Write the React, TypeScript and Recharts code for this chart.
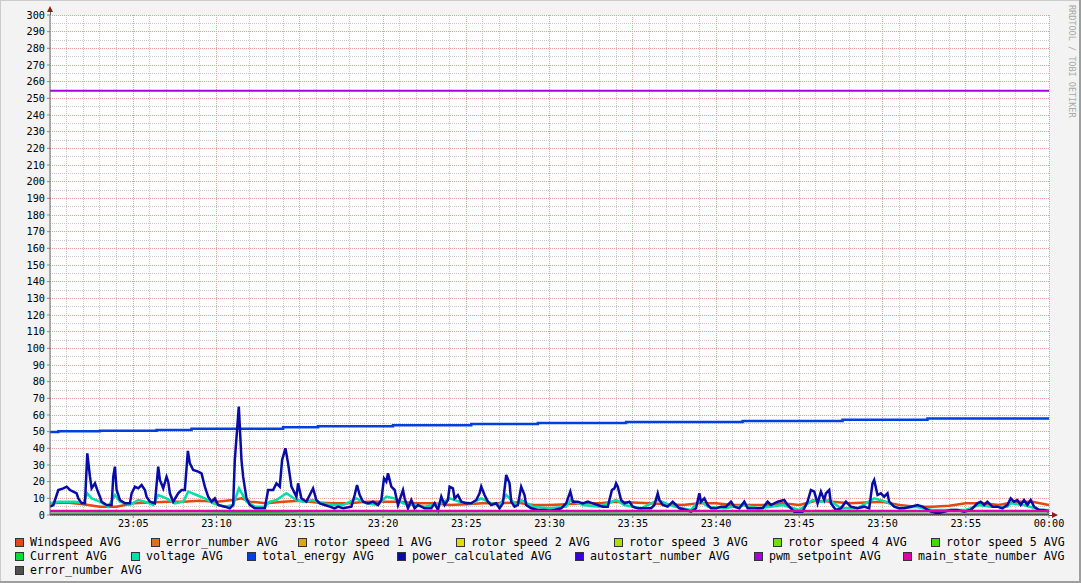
import React from 'react';
import { LineChart, Line, XAxis, YAxis, CartesianGrid } from 'recharts';

// minutes after 23:00
const minorX = Array.from({ length: 61 }, (_, i) => i);
const majorX = [5, 10, 15, 20, 25, 30, 35, 40, 45, 50, 55, 60];
const minorY = Array.from({ length: 61 }, (_, i) => i * 5);
const majorY = Array.from({ length: 31 }, (_, i) => i * 10);

const seriesNames = [
  'Windspeed AVG', 'error_number AVG', 'rotor speed 1 AVG', 'rotor speed 2 AVG',
  'rotor speed 3 AVG', 'rotor speed 4 AVG', 'rotor speed 5 AVG',
  'Current AVG', 'voltage AVG', 'total_energy AVG', 'power_calculated AVG',
  'autostart_number AVG', 'pwm_setpoint AVG', 'main_state_number AVG',
  'error_number AVG',
];
const seriesColors = [
  '#E8460F', '#E07010', '#E0A800', '#E0E000', '#A8E000', '#70E000', '#38E000',
  '#00E038', '#00E0A8', '#0040E0', '#0A0AA8', '#3800E0', '#A800E0', '#E000A8',
  '#505050',
];

const windT = [0, 1, 2, 3, 4, 5, 6, 7, 8, 9, 10, 11, 11.5, 12, 13, 14, 15, 16, 17, 18, 19, 20,
  21, 22, 23, 24, 25, 26, 27, 28, 29, 30, 31, 32, 33, 34, 35, 36, 37, 38, 39, 40,
  41, 42, 43, 44, 45, 46, 47, 48, 49, 50, 51, 52, 53, 54, 55, 56, 57, 58, 59, 60];
const windV = [7, 7.5, 6.5, 5, 5, 7, 7.5, 8, 8, 8.5, 8, 9, 10, 8, 7, 8, 8.5, 7.5, 7, 7, 8, 8,
  8, 7, 7, 6, 6.5, 7, 7, 7.5, 6, 6, 6.5, 7, 7, 8, 7.5, 7, 6.5, 6, 7, 7,
  6, 6, 6, 7, 6, 8.5, 8, 7, 7.5, 8, 6, 5, 5, 5.5, 7, 7, 6, 8, 8, 6];

const currentT = [0, 3, 6, 9, 12, 15, 18, 21, 24, 27, 30, 33, 36, 39, 42, 45, 48, 51, 54, 57, 60];
const currentV = [0.8, 0.9, 0.7, 0.8, 1.2, 0.9, 0.8, 0.9, 0.8, 0.7, 0.8, 0.9, 0.7, 0.6, 0.8, 0.8, 0.9, 0.7, 0.6, 0.8, 0.7];

const voltT = [0, 0.5, 1, 1.5, 2, 2.24, 2.5, 3, 3.5, 3.9, 4.2, 4.8, 5.3, 5.7, 6.2, 6.5, 7, 7.5, 8, 8.3,
  8.8, 9.3, 9.8, 10.5, 11, 11.35, 11.8, 12.3, 12.9, 13.2, 13.6, 14.2, 14.8, 15.2, 15.8, 16.3, 17, 17.6,
  18.4, 19, 19.7, 20.2, 20.7, 21.2, 21.8, 22.5, 23.5, 24, 24.6, 25.3, 25.9, 26.5, 27, 27.4, 28, 28.3,
  29, 30, 31, 31.25, 32, 33, 34, 34.5, 35.5, 36.5, 37.5, 38.5, 39, 39.5, 40.5, 41.7, 42.5, 43.3, 44,
  45, 45.8, 46.3, 46.8, 47.5, 48.5, 49.5, 50.2, 51, 52, 53, 54, 55, 55.8, 56.5, 57.5, 57.7, 58.5, 59.5, 60];
const voltV = [7, 8, 8, 8, 7, 13, 10, 8, 5, 12, 8, 6, 9, 8, 6, 12, 10, 7, 8, 14,
  12, 10, 7, 5, 6, 16, 8, 5, 5, 8, 9, 13, 9, 8, 9, 7, 6, 6,
  10, 7, 6, 11, 10, 7, 6, 5, 7, 10, 8, 7, 10, 7, 6, 12, 6, 9,
  5, 4, 5, 9, 6, 5, 9, 6, 4, 9, 5, 3, 9, 5, 4, 6, 4, 5, 6,
  3, 9, 8, 9, 4, 4, 10, 8, 4, 5, 3, 3, 3, 6, 5, 5, 7, 6, 3, 3];

const energyT = [0, 0.5, 3.0, 6.4, 8.5, 14.0, 16.1, 20.6, 25.3, 29.3, 34.6, 41.6, 47.6, 52.7, 60];
const energyV = [49.8, 50.2, 50.5, 51.0, 51.8, 52.6, 53.2, 53.9, 54.6, 55.2, 55.8, 56.4, 57.2, 57.9, 57.9];

const powerT = [0, 0.2, 0.5, 0.8, 1.0, 1.2, 1.4, 1.6, 1.7, 1.9, 2.1, 2.24, 2.4, 2.5, 2.7, 2.84, 3.0, 3.1,
  3.4, 3.7, 3.8, 3.9, 4.0, 4.2, 4.5, 4.8, 4.9, 5.1, 5.3, 5.5, 5.7, 5.8, 6.0, 6.3, 6.5, 6.6, 6.8, 7.0,
  7.1, 7.2, 7.4, 7.7, 7.9, 8.1, 8.28, 8.4, 8.6, 8.9, 9.1, 9.3, 9.5, 9.7, 9.9, 10.1, 10.5, 10.8, 11.0,
  11.1, 11.34, 11.5, 11.6, 11.8, 12.0, 12.3, 12.9, 13.1, 13.4, 13.6, 13.8, 13.94, 14.14, 14.3, 14.5,
  14.8, 14.9, 15.1, 15.4, 15.6, 15.8, 16.0, 16.2, 16.5, 16.8, 17.1, 17.3, 17.6, 18.1, 18.3, 18.44,
  18.6, 18.8, 19.1, 19.4, 19.7, 19.9, 20.06, 20.2, 20.3, 20.5, 20.7, 20.9, 21.2, 21.3, 21.5, 21.7,
  21.9, 22.1, 22.5, 22.9, 23.1, 23.3, 23.5, 23.7, 23.9, 24.0, 24.2, 24.3, 24.5, 24.7, 25.0, 25.3,
  25.6, 25.8, 25.9, 26.1, 26.3, 26.5, 26.8, 27.0, 27.2, 27.4, 27.6, 27.7, 27.9, 28.1, 28.3, 28.5,
  28.6, 28.9, 29.3, 29.7, 30.0, 30.3, 30.7, 31.0, 31.25, 31.4, 31.7, 32.0, 32.3, 32.6, 32.9, 33.2,
  33.5, 33.75, 33.9, 34.0, 34.1, 34.3, 34.5, 34.8, 35.0, 35.3, 35.7, 36.1, 36.3, 36.5, 36.6, 36.8,
  37.1, 37.4, 37.6, 37.8, 38.2, 38.5, 38.8, 39.0, 39.1, 39.3, 39.5, 39.7, 40.0, 40.3, 40.6, 40.9,
  41.1, 41.4, 41.7, 41.9, 42.3, 42.8, 43.1, 43.3, 43.7, 44.1, 44.3, 44.7, 45.0, 45.2, 45.5, 45.7,
  45.9, 46.1, 46.3, 46.5, 46.6, 46.8, 46.9, 47.2, 47.5, 47.8, 48.1, 48.5, 48.9, 49.2, 49.4, 49.5,
  49.7, 49.9, 50.1, 50.3, 50.4, 50.7, 51.0, 51.3, 51.7, 52.1, 52.4, 52.9, 53.3, 53.7, 54.1, 54.5,
  54.9, 55.3, 55.7, 55.9, 56.1, 56.3, 56.6, 56.9, 57.2, 57.5, 57.7, 57.9, 58.1, 58.3, 58.5, 58.7,
  58.9, 59.1, 59.4, 59.7, 60.0];
const powerV = [5, 6, 15, 16, 17, 15, 14, 13, 10, 7, 7, 37, 23, 16, 19, 15, 11, 8,
  6, 6, 23, 29, 15, 9, 7, 7, 13, 17, 16, 18, 15, 11, 8, 7, 29, 21, 16, 23,
  20, 13, 8, 13, 15, 15, 38.5, 31, 27, 26, 25, 17, 11, 8, 10, 6, 5, 4, 6,
  33, 65, 33, 23, 10, 6, 4, 4, 15, 15, 19, 17, 33, 40, 31, 17,
  11, 19, 10, 8, 12, 16, 9, 7, 6, 5, 4, 5, 4, 5, 12, 18,
  12, 8, 7, 8, 6, 9, 22, 20, 25, 17, 15, 6, 15, 10, 4, 9,
  4, 6, 4, 4, 7, 3, 11, 6, 9, 17, 16, 10, 12, 8, 7, 7,
  9, 13, 17, 12, 8, 6, 7, 4, 7, 24, 19, 8, 5, 6, 17, 12,
  6, 4, 3, 3, 2.5, 3, 4, 7, 14, 8, 8, 7, 8, 7, 6, 5,
  5, 15, 16, 19, 17, 9, 7, 8, 5, 4, 4, 4, 6, 13, 9, 6,
  5, 8, 6, 4, 3, 2, 4, 13, 8, 10, 6, 4, 4, 5, 5, 8,
  5, 4, 8, 4, 4, 4, 8, 6, 8, 9, 6, 2, 2, 2, 8, 15,
  14, 7, 14, 9, 13, 15, 7, 3, 4, 8, 5, 4, 5, 4, 19, 21,
  12, 13, 11, 13, 8, 5, 4, 4, 5, 6, 5, 2, 1, 2, 3, 3,
  2, 3, 7, 8, 6, 8, 5, 5, 4, 6, 10, 8, 9, 6, 9, 6,
  9, 5, 3, 3, 2];

const pwmT = [0, 60];
const pwmV = [254.5, 254.5];
const stateT = [0, 60];
const stateV = [2.4, 2.4];
const zeroT = [0, 60];
const zeroV = [0, 0];

const pairs = (ts: number[], vs: number[]) => ts.map((t, i) => ({ t, v: vs[i] }));

// drawing order follows the legend order
const seriesData = [
  pairs(windT, windV),
  pairs(zeroT, zeroV),
  pairs(zeroT, zeroV),
  pairs(zeroT, zeroV),
  pairs(zeroT, zeroV),
  pairs(zeroT, zeroV),
  pairs(zeroT, zeroV),
  pairs(currentT, currentV),
  pairs(voltT, voltV),
  pairs(energyT, energyV),
  pairs(powerT, powerV),
  pairs(zeroT, zeroV),
  pairs(pwmT, pwmV),
  pairs(stateT, stateV),
  pairs(zeroT, zeroV),
];
const seriesWidth = [2.5, 2, 2, 2, 2, 2, 2, 2.5, 2.5, 2.5, 2.5, 2, 2, 2.5, 2];

const legendRows = [
  { top: 537, items: [0, 1, 2, 3, 4, 5, 6], lefts: [15, 151, 298, 456, 614, 773, 931] },
  { top: 551, items: [7, 8, 9, 10, 11, 12, 13], lefts: [15, 131, 247, 397, 575, 754, 903] },
  { top: 565, items: [14], lefts: [15] },
];

const mono = '"DejaVu Sans Mono", monospace';

const fmtTime = (m: number) => (m >= 60 ? '00:00' : `23:${String(m).padStart(2, '0')}`);

export default function App() {
  return (
    <div style={{ position: 'fixed', left: 0, top: 0, width: 1081, height: 583, background: '#F3F3F3', overflow: 'hidden' }}>
      <LineChart width={1081} height={583} data={seriesData[0]} margin={{ top: 15, right: 32, bottom: 38, left: 0 }}>
        <XAxis
          type="number"
          dataKey="t"
          domain={[0, 60]}
          ticks={majorX}
          interval={0}
          allowDataOverflow
          tickFormatter={fmtTime}
          tickSize={3}
          tickMargin={2}
          axisLine={{ stroke: '#444' }}
          tickLine={{ stroke: '#888' }}
          tick={{ fontSize: 10.2, fontFamily: mono, fill: '#000' }}
        />
        <YAxis
          type="number"
          domain={[0, 300]}
          ticks={majorY}
          interval={0}
          width={50}
          allowDataOverflow
          tickSize={3}
          tickMargin={2}
          axisLine={{ stroke: '#6a6a6a' }}
          tickLine={{ stroke: '#888' }}
          tick={{ fontSize: 10.2, fontFamily: mono, fill: '#000' }}
        />
        <CartesianGrid verticalValues={minorX} horizontalValues={minorY} stroke="#c8c8c8" strokeDasharray="1 1" fill="#fff" shapeRendering="crispEdges" />
        <CartesianGrid verticalValues={majorX} horizontalValues={majorY} stroke="#e2a0a0" strokeDasharray="1 1" shapeRendering="crispEdges" />
        {seriesData.map((d, i) => (
          <Line
            key={i}
            data={d}
            dataKey="v"
            type={i === 9 ? 'stepAfter' : 'linear'}
            stroke={seriesColors[i]}
            strokeWidth={seriesWidth[i]}
            dot={false}
            isAnimationActive={false}
          />
        ))}
      </LineChart>

      {/* axis extensions and arrows */}
      <div style={{ position: 'absolute', left: 50, top: 9, width: 1, height: 6, background: '#6a6a6a' }} />
      <div style={{ position: 'absolute', left: 47, top: 6, width: 0, height: 0, borderLeft: '3.5px solid transparent', borderRight: '3.5px solid transparent', borderBottom: '6px solid #9a1a1a' }} />
      <div style={{ position: 'absolute', left: 1049, top: 515, width: 4, height: 1, background: '#444' }} />
      <div style={{ position: 'absolute', left: 1052, top: 512, width: 0, height: 0, borderTop: '3.5px solid transparent', borderBottom: '3.5px solid transparent', borderLeft: '6px solid #9a1a1a' }} />

      {/* legend */}
      {legendRows.map((row) =>
        row.items.map((idx, j) => (
          <div key={`${row.top}-${idx}`} style={{ position: 'absolute', left: row.lefts[j], top: row.top, height: 10, display: 'flex', alignItems: 'center', whiteSpace: 'nowrap' }}>
            <div style={{ width: 7, height: 7, background: seriesColors[idx], border: '1px solid #333' }} />
            <span style={{ marginLeft: 6, fontFamily: mono, fontSize: 11.6, color: '#000', lineHeight: '10px' }}>{seriesNames[idx]}</span>
          </div>
        ))
      )}

      {/* watermark */}
      <div style={{ position: 'absolute', left: 1067, top: 5, writingMode: 'vertical-rl', fontFamily: mono, fontSize: 8.5, color: '#a8a8a8', lineHeight: '10px', whiteSpace: 'nowrap' }}>
        RRDTOOL / TOBI OETIKER
      </div>

      {/* frame shading */}
      <div style={{ position: 'absolute', left: 0, top: 0, width: 1081, height: 1, background: '#cbcbcb' }} />
      <div style={{ position: 'absolute', left: 0, top: 0, width: 1, height: 583, background: '#cbcbcb' }} />
      <div style={{ position: 'absolute', right: 0, top: 0, width: 2, height: 583, background: '#9e9e9e' }} />
      <div style={{ position: 'absolute', left: 0, bottom: 0, width: 1081, height: 2, background: '#9e9e9e' }} />
    </div>
  );
}
